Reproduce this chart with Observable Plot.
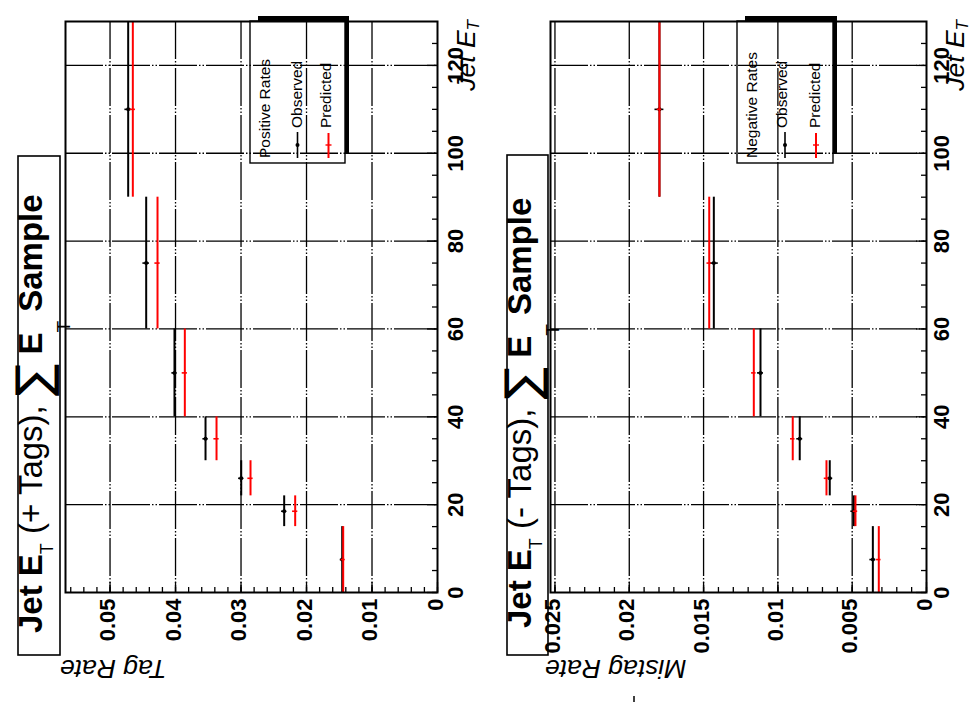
<!DOCTYPE html>
<html><head><meta charset="utf-8">
<script src="https://cdn.jsdelivr.net/npm/d3@7"></script>
<script src="https://cdn.jsdelivr.net/npm/@observablehq/plot@0.6"></script>
<style>
html,body{margin:0;padding:0;background:#fff;}
#wrap{position:relative;width:971px;height:702px;overflow:hidden;background:#fff;font-family:"Liberation Sans",Arial,sans-serif;}
#wrap svg{position:absolute;top:0;overflow:visible;}
text{white-space:pre;}
</style></head><body><div id="wrap"></div>
<script>
// ---- data (Jet E_T bins) ----
const etLo  = [0, 15, 22, 30, 40, 60, 90];
const etHi  = [15, 22, 30, 40, 60, 90, 130];
const etMid = [7.5, 18.5, 26, 35, 50, 75, 110];

// Tag rate, + tags
const tagObserved   = [0.01455, 0.02341, 0.02997, 0.03542, 0.04016, 0.04448, 0.04723];
const tagObsErr     = [0.0003, 0.0004, 0.0004, 0.0004, 0.0004, 0.0005, 0.0005];
const tagPredicted  = [0.0144, 0.02173, 0.02855, 0.03374, 0.03858, 0.04275, 0.04652];
const tagPredErr    = [0.0003, 0.0004, 0.0004, 0.0004, 0.0004, 0.0004, 0.0004];

// Mistag rate, - tags
const misObserved   = [0.00361, 0.00489, 0.00651, 0.00853, 0.01117, 0.01431, 0.01797];
const misObsErr     = [0.0002, 0.0002, 0.0002, 0.0002, 0.0002, 0.0003, 0.0003];
const misPredicted  = [0.00321, 0.00478, 0.00673, 0.0090, 0.01162, 0.01462, 0.01797];
const misPredErr    = [0.00015, 0.00015, 0.00015, 0.00015, 0.00015, 0.00015, 0.00015];

// ticks
const etTicks       = [0, 20, 40, 60, 80, 100, 120];
const etTickLabels  = ["0", "20", "40", "60", "80", "100", "120"];
const tagTicks      = [0, 0.01, 0.02, 0.03, 0.04, 0.05];
const tagTickLabels = ["0", "0.01", "0.02", "0.03", "0.04", "0.05"];
const misTicks      = [0, 0.005, 0.01, 0.015, 0.02, 0.025];
const misTickLabels = ["0", "0.005", "0.01", "0.015", "0.02", "0.025"];

const H = 702, MT = 21, MB = 110;
const etMinor = d3.range(0, 130, 5);
const gridStyle = {stroke: "black", strokeWidth: 1.3, strokeDasharray: "38,2,1.5,2,1.5,2"};

function panel({obs, obsErr, pred, predErr, xMax, xTicks, xLabels, xMinorStep, width, ml, mr, etDx}) {
  const rows = etLo.map((lo, i) => ({lo, hi: etHi[i], mid: etMid[i], obs: obs[i], oe: obsErr[i], pred: pred[i], pe: predErr[i]}));
  const fw = width - ml - mr, fh = H - MT - MB;
  const xMinor = d3.range(0, Math.round(xMax / xMinorStep) + 1).map(i => +(i * xMinorStep).toFixed(6)).filter(v => v <= xMax);
  return Plot.plot({
    width, height: H, marginLeft: ml, marginRight: mr, marginTop: MT, marginBottom: MB,
    x: {domain: [0, xMax], reverse: true, axis: null},
    y: {domain: [0, 130], axis: null},
    style: {fontFamily: "Liberation Sans, Arial, sans-serif", background: "transparent", overflow: "visible", color: "black"},
    marks: [
      Plot.ruleX(xTicks.filter(d => d > 0), {x: d => d, ...gridStyle}),
      Plot.ruleY(etTicks.filter(d => d > 0), {y: d => d, ...gridStyle}),
      Plot.tickX(xMinor, {x: d => d, stroke: "black", strokeWidth: 1.3, insetTop: fh - 5}),
      Plot.tickX(xTicks, {x: d => d, stroke: "black", strokeWidth: 1.3, insetTop: fh - 10}),
      Plot.tickY(etMinor, {y: d => d, stroke: "black", strokeWidth: 1.3, insetLeft: fw - 5}),
      Plot.tickY(etTicks, {y: d => d, stroke: "black", strokeWidth: 1.3, insetLeft: fw - 10}),
      // observed
      Plot.ruleX(rows, {x: "obs", y1: "lo", y2: "hi", stroke: "black", strokeWidth: 2}),
      Plot.ruleY(rows, {y: "mid", x1: d => d.obs - d.oe, x2: d => d.obs + d.oe, stroke: "black", strokeWidth: 1.6}),
      Plot.dot(rows, {x: "obs", y: "mid", r: 2, fill: "black"}),
      // predicted
      Plot.ruleX(rows, {x: "pred", y1: "lo", y2: "hi", stroke: "#ff0000", strokeWidth: 2}),
      Plot.ruleY(rows, {y: "mid", x1: d => d.pred - d.pe, x2: d => d.pred + d.pe, stroke: "#ff0000", strokeWidth: 1.6}),
      Plot.frame({stroke: "black", strokeWidth: 2}),
      Plot.text(xTicks, {x: d => d, text: (d, i) => xLabels[i], frameAnchor: "bottom", rotate: -90, textAnchor: "end", lineAnchor: "middle", dy: 6, dx: -2, fontSize: 22, fontWeight: "bold", fill: "black"}),
      Plot.text(etTicks, {y: d => d, text: (d, i) => etTickLabels[i], frameAnchor: "right", rotate: -90, textAnchor: "middle", lineAnchor: "top", dx: etDx, fontSize: 22, fontWeight: "bold", fill: "black"})
    ]
  });
}

const wrap = document.getElementById("wrap");
const left = panel({obs: tagObserved, obsErr: tagObsErr, pred: tagPredicted, predErr: tagPredErr, xMax: 0.0568,
  xTicks: tagTicks, xLabels: tagTickLabels, xMinorStep: 0.002, width: 485, ml: 65, mr: 48, etDx: 10});
left.style.left = "0px";
wrap.appendChild(left);
const right = panel({obs: misObserved, obsErr: misObsErr, pred: misPredicted, predErr: misPredErr, xMax: 0.0253,
  xTicks: misTicks, xLabels: misTickLabels, xMinorStep: 0.001, width: 486, ml: 65, mr: 45, etDx: 7});
right.style.left = "485px";
wrap.appendChild(right);

// ---- overlay: titles, legends, axis titles ----
const ov = d3.select(wrap).append("svg").attr("width", 971).attr("height", H)
  .style("left", "0px").style("font-family", "Liberation Sans, Arial, sans-serif");

function title(g, boxX, boxY, boxW, boxH, baseX, startY, sign) {
  g.append("rect").attr("x", boxX).attr("y", boxY).attr("width", boxW).attr("height", boxH)
    .attr("fill", "none").attr("stroke", "black").attr("stroke-width", 1.6);
  const t = g.append("text").attr("transform", `translate(${baseX},${startY}) rotate(-90)`)
    .attr("font-size", 33).attr("fill", "black");
  t.append("tspan").attr("font-weight", "bold").text("Jet E");
  t.append("tspan").attr("font-size", 18).attr("dy", 11).text("T");
  t.append("tspan").attr("dy", -11).text(` (${sign} Tags), `);
  t.append("tspan").attr("font-family", "DejaVu Sans").attr("font-size", 48).attr("dy", 8).text("\u2211");
  t.append("tspan").attr("dy", -8).attr("font-weight", "bold").text(" E");
  t.append("tspan").attr("font-size", 19).attr("dy", 28).text("T");
  t.append("tspan").attr("dy", -28).attr("font-weight", "bold").text(" Sample");
}
title(ov.append("g"), 18, 156, 42, 499, 42, 633, "+");
title(ov.append("g"), 507, 155, 41, 500, 531, 628, "-");

function legend(g, bx, bw, header, hx, ox, px, lo, lp) {
  g.append("rect").attr("x", bx + 8).attr("y", 16).attr("width", bw + 4 - 8).attr("height", 5).attr("fill", "black");
  g.append("rect").attr("x", bx + bw).attr("y", 16).attr("width", 4).attr("height", 138).attr("fill", "black");
  g.append("rect").attr("x", bx).attr("y", 21).attr("width", bw).attr("height", 142)
    .attr("fill", "none").attr("stroke", "black").attr("stroke-width", 1.4);
  const txt = (x, y, s) => g.append("text").attr("transform", `translate(${x},${y}) rotate(-90)`)
    .attr("font-size", 15.5).attr("fill", "black").text(s);
  txt(hx, 158, header);
  txt(ox, 128, "Observed");
  txt(px, 128, "Predicted");
  g.append("line").attr("x1", lo).attr("x2", lo).attr("y1", 132).attr("y2", 158).attr("stroke", "black").attr("stroke-width", 1.6);
  g.append("circle").attr("cx", lo).attr("cy", 145).attr("r", 2).attr("fill", "black");
  g.append("line").attr("x1", lp).attr("x2", lp).attr("y1", 133).attr("y2", 158).attr("stroke", "#ff0000").attr("stroke-width", 2);
  g.append("line").attr("x1", lp - 3).attr("x2", lp + 3).attr("y1", 145).attr("y2", 145).attr("stroke", "#ff0000").attr("stroke-width", 1.4);
}
legend(ov.append("g"), 250, 95, "Positive Rates", 270, 302, 331, 297.5, 328.5);
legend(ov.append("g"), 737, 96, "Negative Rates", 757, 787, 820, 785, 816);

function axisTitles(g, frameLeft, frameRight, yName) {
  const t = g.append("text").attr("transform", `translate(${frameRight + 38},20) rotate(-90)`)
    .attr("font-size", 26.5).attr("font-style", "italic").attr("text-anchor", "end").attr("fill", "black");
  t.append("tspan").text("Jet E");
  t.append("tspan").attr("font-size", 17).attr("dy", 4).text("T");
  g.append("text").attr("transform", `translate(${frameLeft - 5},660) rotate(180)`)
    .attr("font-size", 26.5).attr("font-style", "italic").attr("text-anchor", "end").attr("fill", "black").text(yName);
}
axisTitles(ov.append("g"), 65, 437, "Tag Rate");
axisTitles(ov.append("g"), 550, 926, "Mistag Rate");

// small stray stroke below the lower axis title, as in the reference
ov.append("line").attr("x1", 634).attr("x2", 634).attr("y1", 696).attr("y2", 702).attr("stroke", "black").attr("stroke-width", 1.5);
</script></body></html>
